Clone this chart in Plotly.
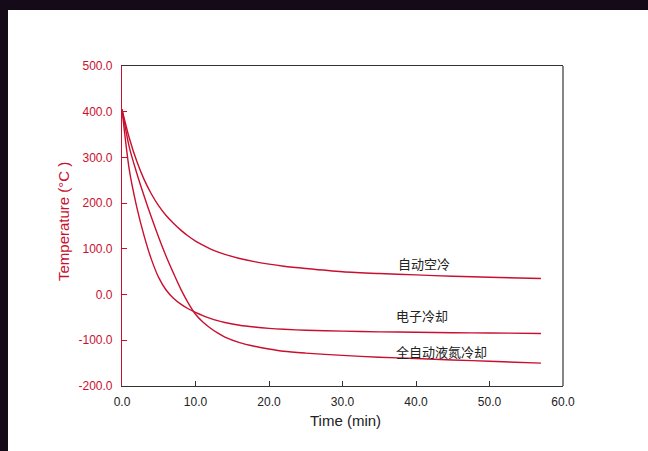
import plotly.graph_objects as go

# Cooling curves: temperature (°C) against time (min)
time_min = [0, 1, 2, 3, 4, 5, 6, 7, 8, 9, 10, 11, 12, 13, 14,
            16, 18, 20, 22, 25, 30, 35, 40, 45, 50, 57]

air_cooling = [405, 342, 292, 252, 220, 194, 173, 156, 141, 128, 117, 108, 100, 93.5, 88,
               79, 72, 66.5, 62, 57, 50, 46, 43, 40, 38, 35]
electronic_cooling = [405, 272, 192, 129, 77, 37, 10, -8, -21, -31, -39, -46, -52, -57, -61,
                      -67, -71, -74, -76, -78, -80, -81.5, -82.5, -83.5, -84, -85]
ln2_cooling = [405, 322, 266, 216, 169, 125, 84, 47, 12, -18, -43, -60, -73, -84, -93,
               -105, -113, -119, -124, -128, -133, -137, -140, -143, -146, -150]

series_names = ["自动空冷", "电子冷却", "全自动液氮冷却"]
label_pos = [(37.3, 68), (37.0, -46), (37.0, -125)]

x_ticks = [0, 10, 20, 30, 40, 50, 60]
x_tick_text = ["0.0", "10.0", "20.0", "30.0", "40.0", "50.0", "60.0"]
y_ticks = [-200, -100, 0, 100, 200, 300, 400, 500]
y_tick_text = ["-200.0", "-100.0", "0.0", "100.0", "200.0", "300.0", "400.0", "500.0"]

RED = "#c8102e"
INK = "#222222"
FRAME = "#150a18"

fig = go.Figure()
for ys in (air_cooling, electronic_cooling, ln2_cooling):
    fig.add_trace(go.Scatter(
        x=time_min, y=ys, mode="lines",
        line=dict(color=RED, width=1.4, shape="spline", smoothing=0.8),
        showlegend=False, hoverinfo="skip",
    ))

for name, (lx, ly) in zip(series_names, label_pos):
    fig.add_annotation(
        x=lx, y=ly, text=name, showarrow=False,
        xanchor="left", yanchor="middle",
        font=dict(family="Noto Sans CJK SC", size=13, color=INK),
    )

W, H = 648, 451
L, R, T, B = 122, 85, 66, 65
pw, ph = W - L - R, H - T - B

def px_x(p):
    return (p - L) / pw

def px_y(p):
    return (H - B - p) / ph

# axis titles placed as free text
fig.add_annotation(
    xref="paper", yref="paper", x=px_x(63), y=px_y(222),
    text="Temperature (°C )", textangle=-90, showarrow=False,
    xanchor="center", yanchor="middle",
    font=dict(size=15, color=RED),
)
fig.add_annotation(
    xref="paper", yref="paper", x=px_x(345), y=px_y(420),
    text="Time (min)", showarrow=False,
    xanchor="center", yanchor="middle",
    font=dict(size=15, color=INK),
)

shapes = [
    # right border of the plot box
    dict(type="line", xref="paper", yref="paper", x0=1, x1=1, y0=0, y1=1,
         line=dict(color="#333333", width=1.2)),
    # dark frame along the top and left of the page
    dict(type="rect", xref="paper", yref="paper",
         x0=px_x(0), x1=px_x(W), y0=px_y(10), y1=px_y(0),
         fillcolor=FRAME, line=dict(width=0), layer="above"),
    dict(type="rect", xref="paper", yref="paper",
         x0=px_x(0), x1=px_x(8), y0=px_y(H), y1=px_y(0),
         fillcolor=FRAME, line=dict(width=0), layer="above"),
]

fig.update_layout(
    width=W, height=H,
    margin=dict(l=L, r=R, t=T, b=B),
    paper_bgcolor="white", plot_bgcolor="white",
    font=dict(family="Liberation Sans, Arial, sans-serif", size=12, color=INK),
    shapes=shapes,
    xaxis=dict(
        range=[0, 60], tickvals=x_ticks, ticktext=x_tick_text,
        showgrid=False, zeroline=False,
        showline=True, linecolor="#333333", linewidth=1.2, mirror=True,
        ticks="inside", ticklen=5, tickcolor="#333333",
        tickfont=dict(size=12, color=INK), ticklabelstandoff=4,
    ),
    yaxis=dict(
        range=[-200, 500], tickvals=y_ticks, ticktext=y_tick_text,
        showgrid=False, zeroline=False,
        showline=True, linecolor=RED, linewidth=1.2,
        ticks="inside", ticklen=5, tickcolor=RED,
        tickfont=dict(size=12, color=RED), ticklabelstandoff=6,
    ),
)

fig.write_html("out.html")
